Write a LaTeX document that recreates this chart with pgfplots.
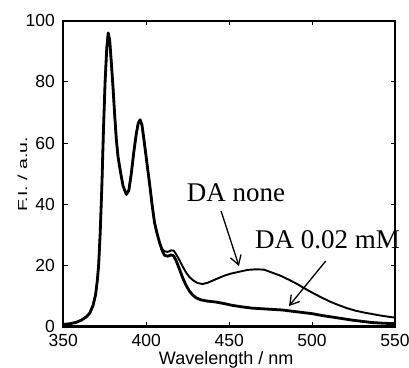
\documentclass[border=0pt]{standalone}
\usepackage{fontspec}
\setmainfont{Liberation Sans}
\newfontfamily\seriffont{Liberation Serif}
\usepackage{pgfplots}
\pgfplotsset{compat=1.18}
\usetikzlibrary{arrows.meta}
\begin{document}
\begin{tikzpicture}
\begin{axis}[
  scale only axis,
  width=331.7pt, height=305.8pt,
  xmin=350, xmax=550, ymin=0, ymax=100,
  xtick={350,400,...,550}, ytick={0,20,...,100},
  tick align=inside, major tick length=4.5pt,
  tick style={line width=0.9pt, black},
  axis line style={line width=2.3pt},
  /pgf/number format/assume math mode=true,
  ticklabel style={font=\fontsize{17.5}{17.5}\selectfont, inner sep=0pt},
  xticklabel style={anchor=north, yshift=-8pt},
  yticklabel style={anchor=east, xshift=-8.3pt},
  xlabel={Wavelength / nm},
  ylabel={\scalebox{1.5}[1]{\fontsize{13}{13}\selectfont F.I. / a.u.}},
  xlabel style={at={(axis description cs:0.5,0)}, anchor=north, inner sep=0pt, yshift=-25pt, xshift=-3pt, font=\fontsize{18}{18}\selectfont},
  ylabel style={at={(axis description cs:-0.108,0.497)}, anchor=south, inner sep=0pt},
  clip=false,
]
% DA none
\addplot[black, line width=1.9pt, line join=round] coordinates {
(350,0.7) (354,0.9) (358,1.4) (361,2.1) (364,3.2) (366,4.4) (368,7) (369.5,10.5) (370.5,15) (371.3,20) (372.2,30) (373.2,45) (374.2,64) (375.2,80) (376.2,91) (377.1,96) (378,93.5) (379,86) (380,78) (381,69) (382,61) (383,55.5) (384.5,50.5) (386,46) (388,43.2) (389.5,44.5) (391,50) (392.5,57) (394,63) (395.2,66.5) (396.3,67.6) (397.4,66) (398.4,62) (399.6,57) (401,51) (402.3,45.5) (403.5,40) (405,34) (406.5,30.5) (408,27.5) (409.5,25.5)
(411,24.6) (413,24.4) (415,24.9) (416.5,24.8) (418,23.7) (420,21.7) (422,19.6) (424,17.7) (426,16.2) (428.5,15) (431,14.2) (434,13.9) (437,14.3) (440,15) (443,15.7) (447,16.6) (451,17.3) (456,17.9) (461,18.5) (466,18.7) (471,18.6) (476,17.6) (481,16.6) (486,15.3) (491,13.9) (496,12.3) (501,10.8) (506,9.4) (511,8.1) (516,7) (521,6) (526,5.2) (531,4.6) (536,4.1) (541,3.6) (546,3.2) (550,2.9)
};
% DA 0.02 mM
\addplot[black, line width=2.8pt, line join=round] coordinates {
(350,0.7) (354,0.9) (358,1.4) (361,2.1) (364,3.2) (366,4.4) (368,7) (369.5,10.5) (370.5,15) (371.3,20) (372.2,30) (373.2,45) (374.2,64) (375.2,80) (376.2,91) (377.1,96) (378,93.5) (379,86) (380,78) (381,69) (382,61) (383,55.5) (384.5,50.5) (386,46) (388,43.2) (389.5,44.5) (391,50) (392.5,57) (394,63) (395.2,66.5) (396.3,67.6) (397.4,66) (398.4,62) (399.6,57) (401,51) (402.3,45.5) (403.5,40) (405,34) (406.5,30.5) (408,27.5) (409.5,25)
(411,23.3) (413,23) (415,23.4) (416.5,23.1) (418,21.6) (420,18.8) (422,15.9) (424,13.5) (426,11.6) (428,10.3) (430,9.4) (433,8.7) (437,8.3) (442,8) (447,7.5) (452,6.9) (458,6.4) (464,6) (470,5.8) (476,5.6) (482,5.4) (488,5) (494,4.6) (500,4.2) (506,3.6) (512,3.1) (518,2.6) (524,2.1) (530,1.7) (536,1.3) (542,1.1) (546,1) (550,1)
};
\node[anchor=base west, inner sep=0pt, font=\seriffont\fontsize{27}{27}\selectfont] at (axis cs:424.4,40.8) {DA none};
\node[anchor=base west, inner sep=0pt, font=\seriffont\fontsize{27}{27}\selectfont] at (axis cs:465.6,25.6) {DA 0.02 mM};
\draw[line width=1.3pt, -{Straight Barb[length=9pt,width=11pt,line width=1.3pt]}] (axis cs:445.1,37.8) -- (axis cs:455.9,19.8);
\draw[line width=1.3pt, -{Straight Barb[length=9pt,width=11pt,line width=1.3pt]}] (axis cs:508.2,21.4) -- (axis cs:486.1,6.7);
\coordinate (LL) at (rel axis cs:0,0);
\coordinate (UR) at (rel axis cs:1,1);
\end{axis}
\pgfresetboundingbox
\path[use as bounding box] ([xshift=-63.3pt,yshift=-40.5pt]LL) rectangle ([xshift=14pt,yshift=20.7pt]UR);
\end{tikzpicture}
\end{document}
